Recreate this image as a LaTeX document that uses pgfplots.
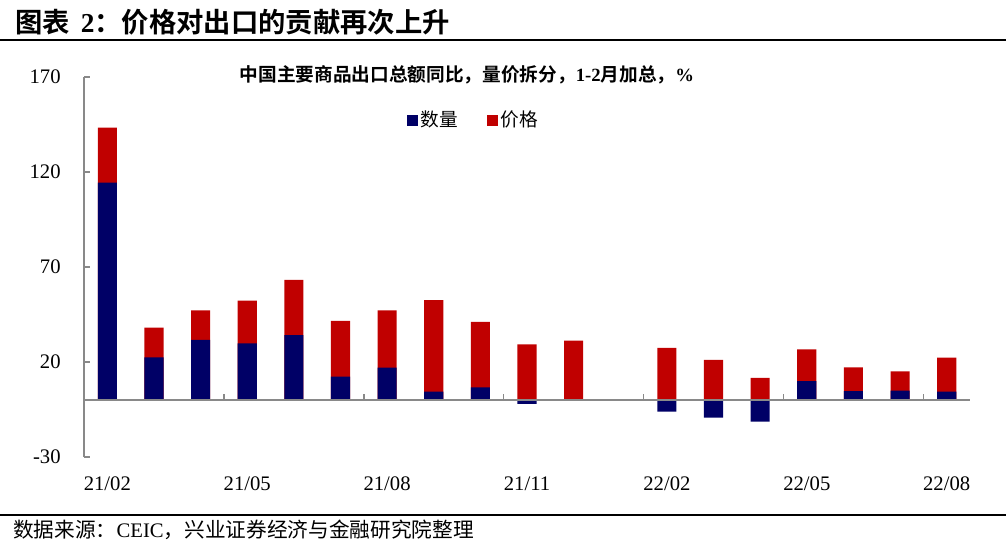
\documentclass[border=0pt]{standalone}
\usepackage{fontspec}
\setmainfont{Liberation Serif}
\newfontfamily\cjk[BoldFont={Noto Sans CJK SC Bold}]{Noto Sans CJK SC}
\usepackage{pgfplots}
\pgfplotsset{compat=1.18}
\usepackage{pgfplotstable}

\definecolor{volblue}{HTML}{000066}
\definecolor{pricered}{HTML}{C00000}
\definecolor{axgray}{HTML}{898989}

% idx 0 = 21/02 ... 18 = 22/08 (22/01 has no value)
\pgfplotstableread{
idx vol price
0  114.4 28.9
1  22.5  15.6
2  31.6  15.6
3  29.8  22.5
4  34.2  29.0
5  12.3  29.3
6  17.0  30.2
7  4.4   48.2
8  6.7   34.4
9  -2.0  29.3
10 0.3   30.9
12 -6.1  27.5
13 -9.3  21.1
14 -11.4 11.6
15 10.0  16.7
16 4.7   12.5
17 4.9   10.2
18 4.4   17.9
}\data

\begin{document}
\begin{tikzpicture}
\begin{axis}[
  at={(63pt,-342.75pt)}, anchor=south west,
  scale only axis, width=664.5pt, height=285pt,
  xmin=-0.5, xmax=18.5, ymin=-30, ymax=170,
  axis x line*=bottom, axis y line*=left,
  x axis line style={draw=none},
  y axis line style={axgray, line width=1.5pt},
  xtick={0,3,...,18},
  xticklabels={21/02,21/05,21/08,21/11,22/02,22/05,22/08},
  x tick style={draw=none},
  ytick={-30,20,70,120,170},
  yticklabels={-30,20,70,120,170},
  y tick style={axgray, line width=1.1pt},
  tick align=inside, major tick length=4.5pt,
  tick label style={font=\fontsize{15.5}{18}\selectfont},
  yticklabel style={xshift=-14pt},
  xticklabel style={yshift=-11pt},
  legend columns=2,
  legend style={draw=none, fill=none, at={(axis description cs:0.44,0.887)}, anchor=center,
    font=\cjk\fontsize{14}{16}\selectfont,
    /tikz/every even column/.append style={column sep=20pt}},
]
\addplot[ybar, bar width=0.41, bar shift=0pt, fill=pricered, draw=none, forget plot]
  table[x=idx, y expr={\thisrow{price}+max(\thisrow{vol},0)}] {\data};
\addplot[ybar, bar width=0.41, bar shift=0pt, fill=volblue, draw=none, forget plot]
  table[x=idx, y=vol] {\data};

\addlegendimage{legend image code/.code={\fill[volblue] (0pt,-3.75pt) rectangle (7.5pt,3.75pt);}}
\addlegendentry{数量}
\addlegendimage{legend image code/.code={\fill[pricered] (0pt,-3.75pt) rectangle (7.5pt,3.75pt);}}
\addlegendentry{价格}

\draw[axgray, line width=1.5pt] (axis cs:-0.5,0) -- (axis cs:18.5,0);
\draw[axgray, line width=1.1pt] (axis cs:2.5,0) -- ++(0pt,4.5pt);
\draw[axgray, line width=1.1pt] (axis cs:5.5,0) -- ++(0pt,4.5pt);
\draw[axgray, line width=1.1pt] (axis cs:8.5,0) -- ++(0pt,4.5pt);
\draw[axgray, line width=1.1pt] (axis cs:11.5,0) -- ++(0pt,4.5pt);
\draw[axgray, line width=1.1pt] (axis cs:14.5,0) -- ++(0pt,4.5pt);
\draw[axgray, line width=1.1pt] (axis cs:17.5,0) -- ++(0pt,4.5pt);
\end{axis}

\begin{scope}[x=0.75pt, y=-0.75pt]
\path[use as bounding box] (0,0) rectangle (1006,550);
\draw[line width=1.5pt] (0,39.5) -- (1006,39.5);
\draw[line width=1.5pt] (0,515) -- (1006,515);
\node[anchor=west, inner sep=0pt] at (15,22)
  {\fontsize{20.5}{24}\selectfont{\cjk\bfseries 图表}\hspace{0.4em}{\bfseries 2}{\cjk\bfseries ：价格对出口的贡献再次上升}};
\node[anchor=center, inner sep=0pt] at (467,75)
  {\fontsize{14}{16}\selectfont{\cjk\bfseries 中国主要商品出口总额同比，量价拆分，}{\bfseries 1-2}{\cjk\bfseries 月加总，}{\bfseries \%}};
\node[anchor=west, inner sep=0pt] at (13,530)
  {\fontsize{15.5}{18}\selectfont{\cjk 数据来源：}CEIC{\cjk ，兴业证券经济与金融研究院整理}};
\end{scope}
\end{tikzpicture}
\end{document}
